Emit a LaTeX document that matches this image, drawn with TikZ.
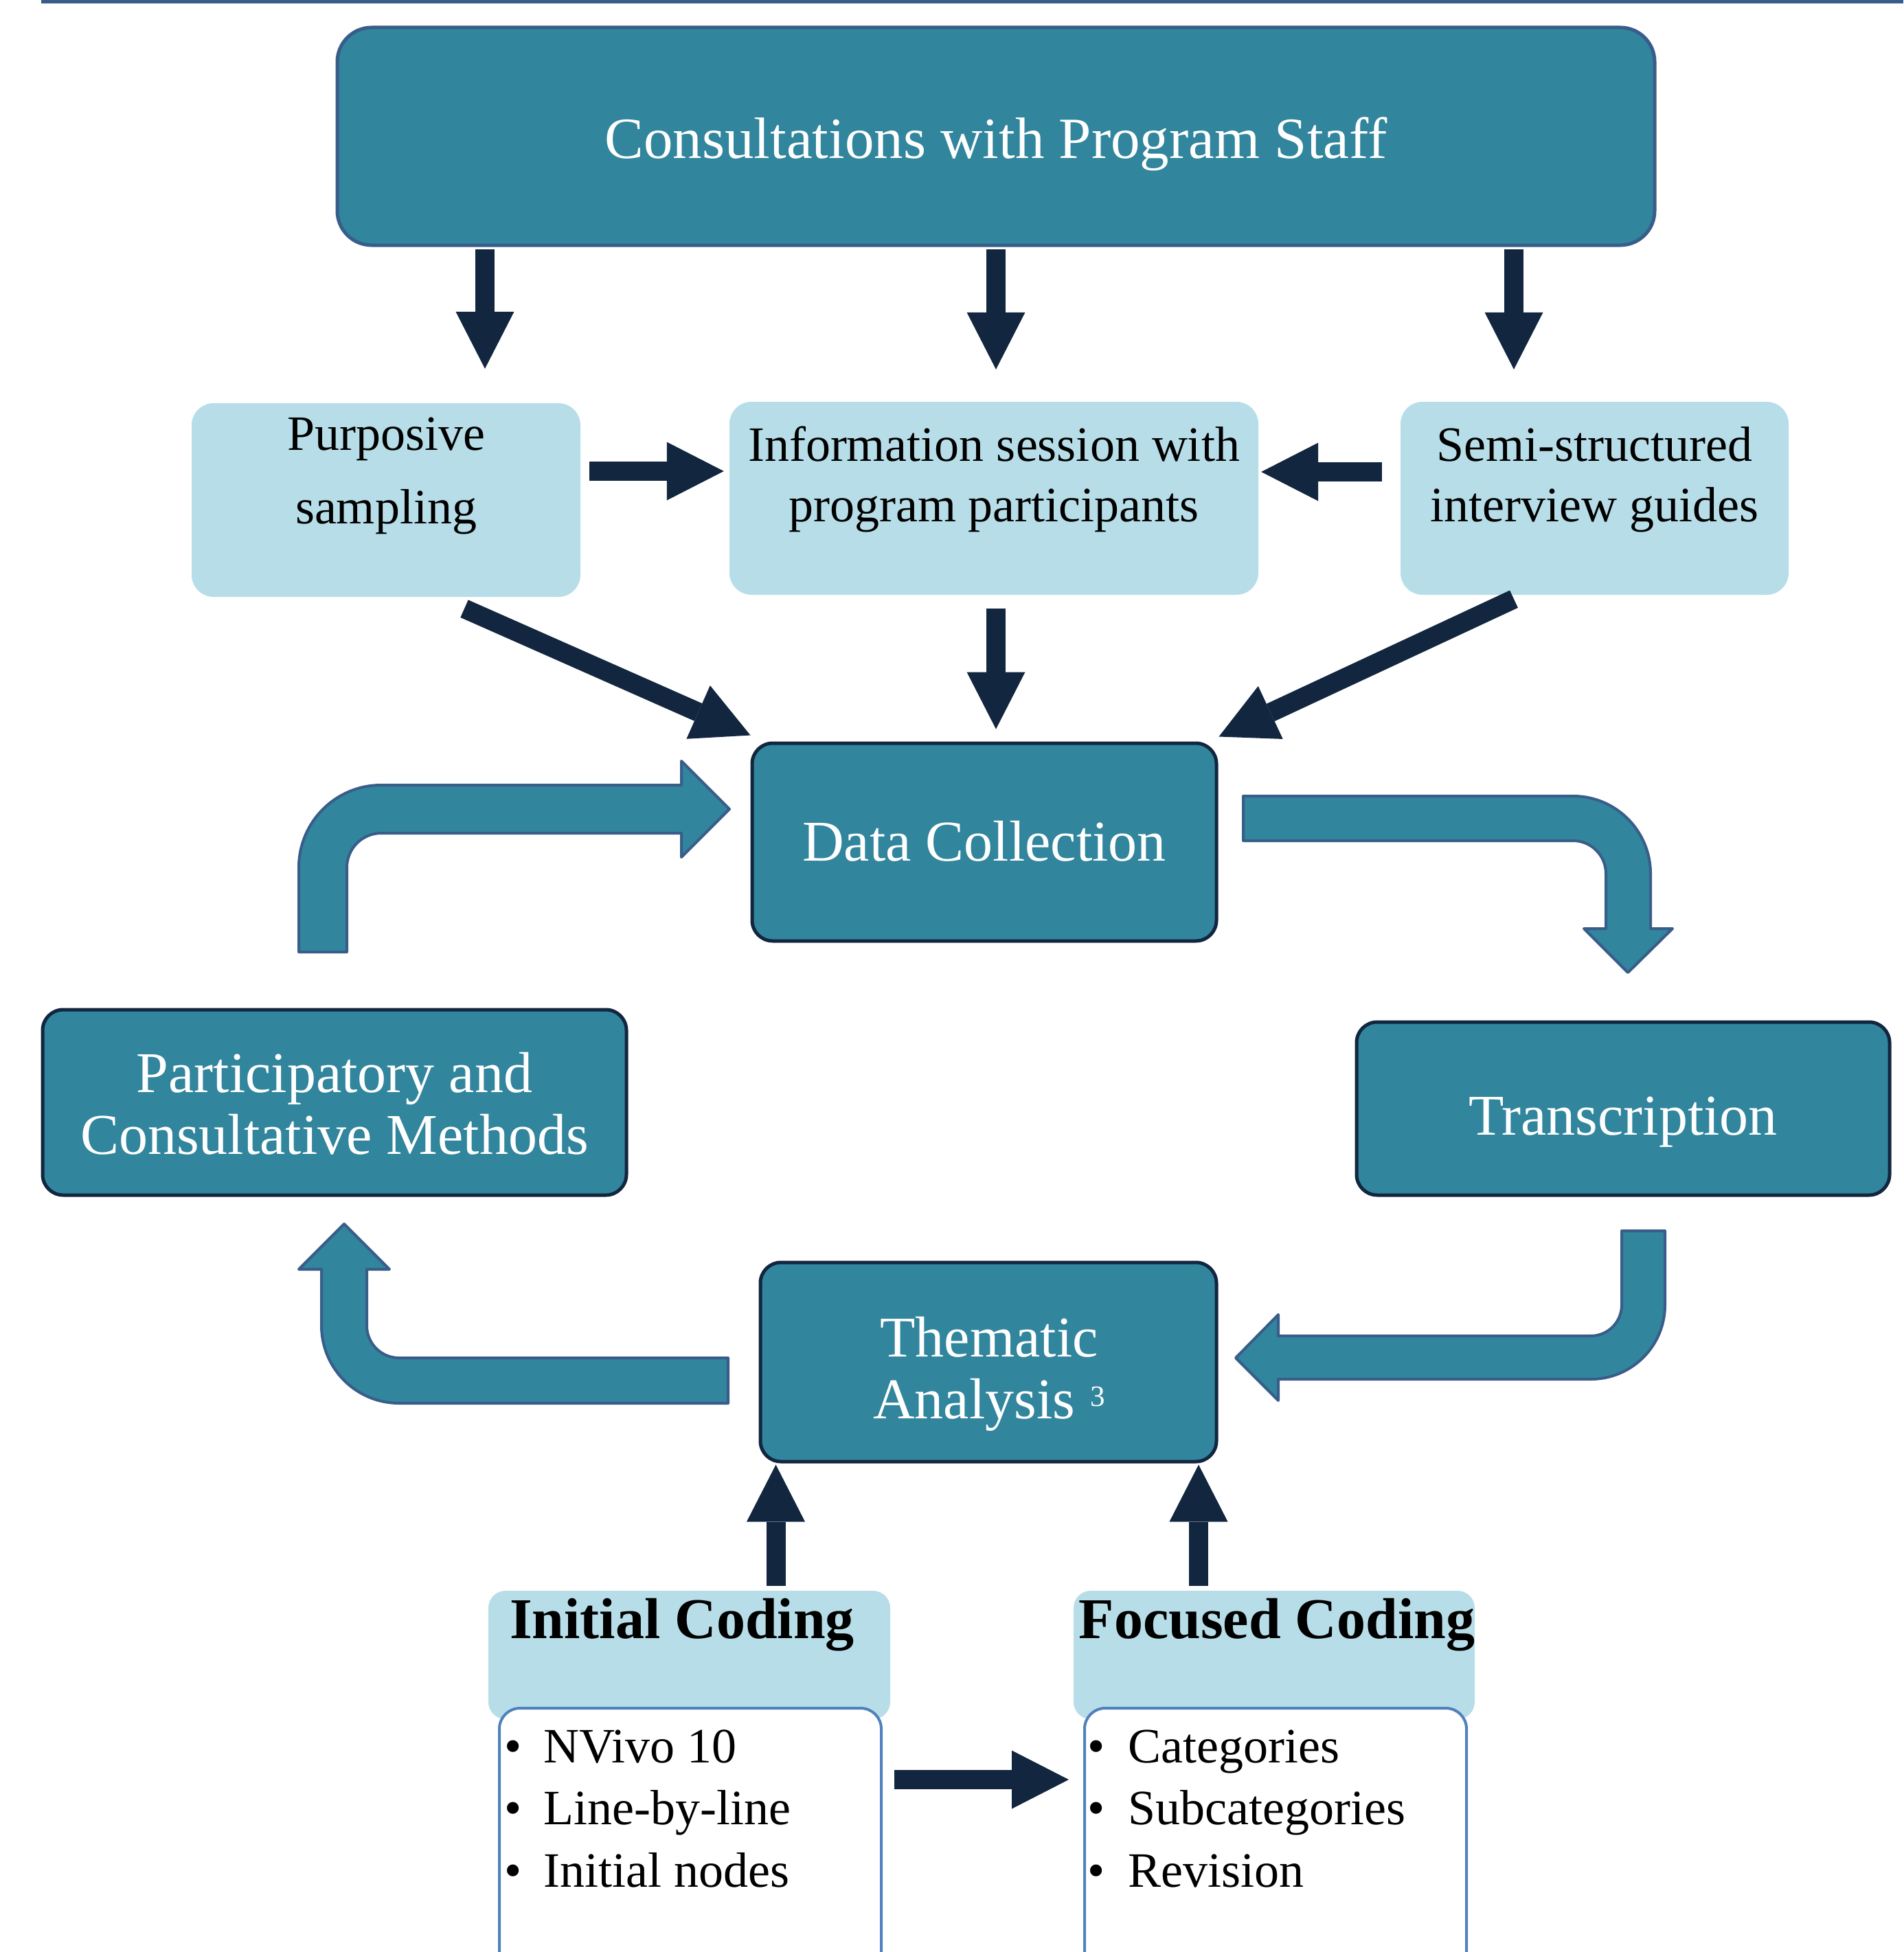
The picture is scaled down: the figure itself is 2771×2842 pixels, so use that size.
\documentclass[tikz,border=0pt]{standalone}
\usepackage{fontspec}
\setmainfont{Liberation Serif}
\usetikzlibrary{arrows.meta,calc}

\definecolor{boxteal}{HTML}{31859C}
\definecolor{edgeblue}{HTML}{385D8A}
\definecolor{paleblue}{HTML}{B7DEE8}
\definecolor{navyarrow}{HTML}{12263F}
\definecolor{listblue}{HTML}{4F81BD}

\begin{document}
\begin{tikzpicture}[x=1pt,y=-1pt,
  tealbox/.style={draw=edgeblue,line width=5pt,fill=boxteal,rounded corners=30pt,inner sep=0pt},
  darkbox/.style={draw=navyarrow,line width=5pt,fill=boxteal,rounded corners=30pt,inner sep=0pt},
  lightbox/.style={fill=paleblue,draw=none,rounded corners=32pt,inner sep=0pt},
  listbox/.style={fill=white,draw=listblue,line width=4pt,rounded corners=30pt,inner sep=0pt},
  bigtext/.style={text=white,font=\fontsize{84}{90}\selectfont,align=center,inner sep=0pt,anchor=base},
  smalltext/.style={text=black,font=\fontsize{72}{107}\selectfont,align=center,inner sep=0pt,anchor=base},
  headtext/.style={text=black,font=\fontsize{84}{90}\selectfont\bfseries,inner sep=0pt,anchor=base},
  bullettext/.style={text=black,font=\fontsize{72}{90.5}\selectfont,align=left,inner sep=0pt,anchor=base west},
  darrow/.style={draw=navyarrow,line width=28pt,
    -{Triangle[width=85pt,length=83pt,line width=0pt]}},
  bent/.style={fill=boxteal,draw=edgeblue,line width=4pt,line join=round}]

\clip (0,0) rectangle (2771,2842);
\fill[white] (0,0) rectangle (2771,2842);

% rule along the top edge
\fill[edgeblue] (60,0) rectangle (2771,5);

% ---------- boxes ----------
% (multi-line labels are placed by the baseline of their last line)
\node[tealbox,rounded corners=50pt,minimum width=1918pt,minimum height=317pt] (consult) at (1450,198.5) {};
\node[bigtext,font=\fontsize{85}{90}\selectfont] (consulttxt) at (1450,230) {Consultations with Program Staff};

\node[lightbox,minimum width=566pt,minimum height=282pt] (purp) at (562,728) {};
\node[smalltext] (purptxt) at (562,762) {Purposive\\sampling};

\node[lightbox,minimum width=770pt,minimum height=281pt] (info) at (1447,725.5) {};
\node[smalltext,font=\fontsize{72}{88}\selectfont] (infotxt) at (1447,759) {Information session with\\program participants};

\node[lightbox,minimum width=565pt,minimum height=281pt] (semi) at (2321.5,725.5) {};
\node[smalltext,font=\fontsize{72}{88}\selectfont] (semitxt) at (2321.5,759) {Semi-structured\\interview guides};

\node[darkbox,minimum width=676pt,minimum height=288pt] (dc) at (1433,1226) {};
\node[bigtext] (dctxt) at (1433,1253) {Data Collection};

\node[darkbox,minimum width=850pt,minimum height=270pt] (part) at (487,1605) {};
\node[bigtext] (parttxt) at (487,1680) {Participatory and\\Consultative Methods};

\node[darkbox,minimum width=776pt,minimum height=252pt] (trans) at (2363,1614) {};
\node[bigtext] (transtxt) at (2363,1652) {Transcription};

\node[darkbox,minimum width=664pt,minimum height=290pt] (them) at (1439,1983) {};
\node[bigtext] (themtxt) at (1440,2065) {Thematic\\Analysis\hspace{22pt}\raisebox{18pt}{\fontsize{43}{43}\selectfont 3}};

% coding stages
\node[lightbox,rounded corners=25pt,minimum width=585pt,minimum height=187pt] (inithead) at (1003.5,2409.5) {};
\node[headtext] (initheadtxt) at (993,2385) {Initial Coding};
\node[listbox,minimum width=556pt,minimum height=420pt] (initlist) at (1005,2697) {};
\node[bullettext] (initlisttxt) at (734,2747) {\makebox[57pt][l]{\textbullet}NVivo 10\\
  \makebox[57pt][l]{\textbullet}Line-by-line\\
  \makebox[57pt][l]{\textbullet}Initial nodes};

\node[lightbox,rounded corners=25pt,minimum width=584pt,minimum height=187pt] (fochead) at (1855,2409.5) {};
\node[headtext] (focheadtxt) at (1859,2385) {Focused Coding};
\node[listbox,minimum width=556pt,minimum height=420pt] (foclist) at (1857,2697) {};
\node[bullettext] (foclisttxt) at (1583,2747) {\makebox[59pt][l]{\textbullet}Categories\\
  \makebox[59pt][l]{\textbullet}Subcategories\\
  \makebox[59pt][l]{\textbullet}Revision};

% ---------- straight arrows ----------
\draw[darrow] ($(consult.south)+(-744,3)$) -- ($(purp.north)+(144,-50)$);
\draw[darrow] ($(consult.south)+(0,3)$) -- ($(info.north)+(3,-47)$);
\draw[darrow] ($(consult.south)+(754,3)$) -- ($(semi.north)+(-117.5,-47)$);

\draw[darrow] ($(purp.east)+(13,-42)$) -- ($(info.west)+(-8,-39.5)$);
\draw[darrow] ($(semi.west)+(-27,-38.5)$) -- ($(info.east)+(4,-38.5)$);

\draw[darrow] ($(purp.south)+(114,17)$) -- ($(dc.north west)+(0,-9)$);
\draw[darrow] ($(info.south)+(3,20)$) -- ($(dc.north)+(17,-18)$);
\draw[darrow] ($(semi.south)+(-117.5,6)$) -- ($(dc.north east)+(1,-7)$);

\draw[darrow] ($(inithead.north)+(126,-7)$) -- ($(them.south)+(-309.5,2)$);
\draw[darrow] ($(fochead.north)+(-110,-7)$) -- ($(them.south)+(306,2)$);

\draw[darrow] ($(initlist.east)+(17,-106)$) -- ($(foclist.west)+(-21,-106)$);

% ---------- bent block arrows ----------
% Participatory and Consultative Methods -> Data Collection
\draw[bent] (435,1386) -- (435,1263) arc[start angle=180,end angle=270,radius=120]
  -- (992,1143) -- (992,1108) -- (1062,1178) -- (992,1248) -- (992,1213)
  -- (555,1213) arc[start angle=270,end angle=180,radius=50] -- (505,1386) -- cycle;

% Data Collection -> Transcription
\draw[bent] (1810,1159) -- (2290,1159) arc[start angle=-90,end angle=0,radius=113]
  -- (2403,1352) -- (2435,1352) -- (2370,1416) -- (2306,1352) -- (2338,1352)
  -- (2338,1272) arc[start angle=0,end angle=-90,radius=48] -- (1810,1224) -- cycle;

% Transcription -> Thematic Analysis
\draw[bent] (2361,1792) -- (2424,1792) -- (2424,1900) arc[start angle=0,end angle=90,radius=108]
  -- (1861,2008) -- (1861,2039) -- (1799,1977) -- (1861,1914) -- (1861,1945)
  -- (2316,1945) arc[start angle=90,end angle=0,radius=45] -- cycle;

% Thematic Analysis -> Participatory and Consultative Methods
\draw[bent] (1060,1977) -- (1060,2043) -- (581,2043) arc[start angle=90,end angle=180,radius=113]
  -- (468,1848) -- (435,1848) -- (501,1782) -- (567,1848) -- (534,1848)
  -- (534,1930) arc[start angle=180,end angle=90,radius=47] -- cycle;

\end{tikzpicture}
\end{document}
